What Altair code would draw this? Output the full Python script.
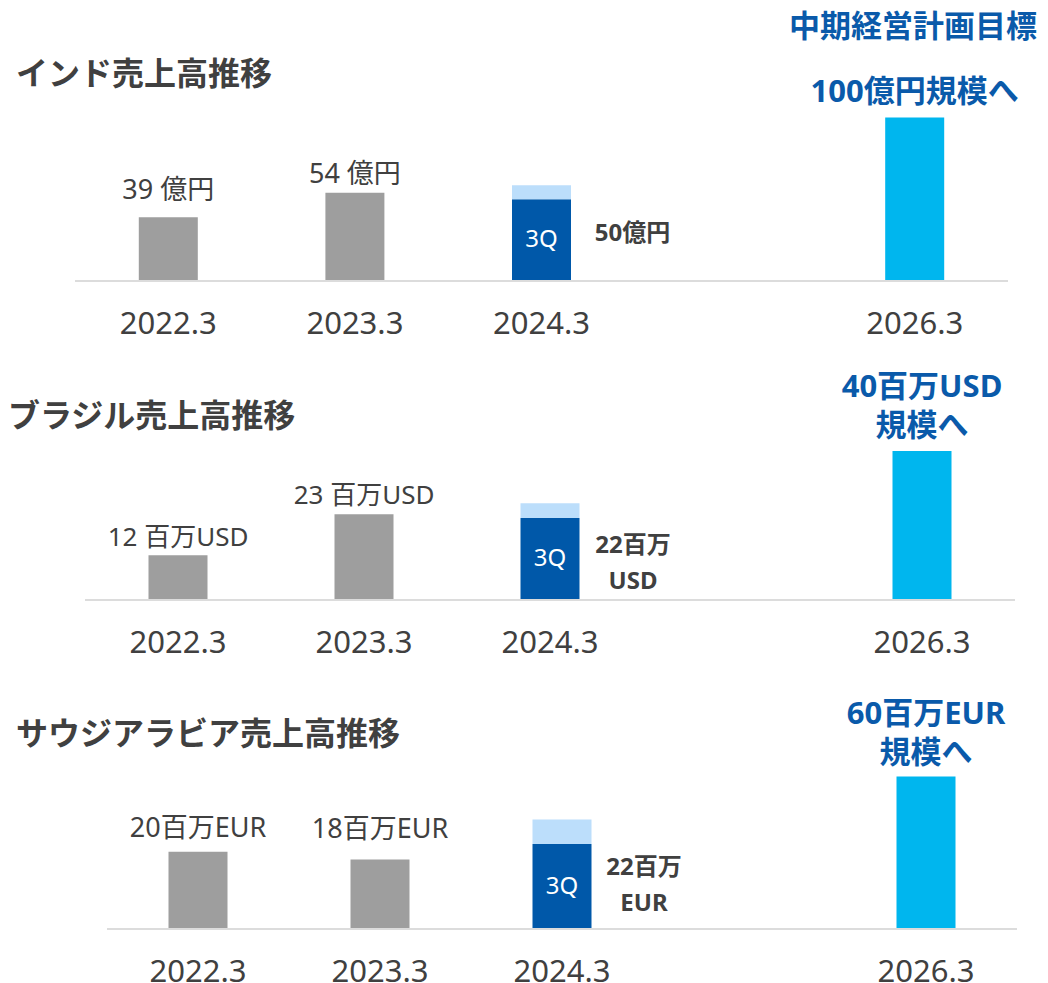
import altair as alt
import pandas as pd

FONT = "Noto Sans, Noto Sans CJK JP"
GRAY = "#9e9e9e"
DARK = "#0058a9"
LIGHT = "#bcdefb"
CYAN = "#00b6ee"
BLUE_TXT = "#0a5aaa"
TXT = "#404040"

# x categories ("" is an empty spacer column for 2025.3)
categories = ["2022.3", "2023.3", "2024.3", "", "2026.3"]
tick_labels = ["2022.3", "2023.3", "2024.3", "2026.3"]
actual_cats = ["2022.3", "2023.3"]

# ---- India (億円)
india_title = "インド売上高推移"
india_actual = [39, 54]
india_actual_labels = ["39 億円", "54 億円"]
india_q3 = 50
india_forecast_total = 58.5
india_q3_label = "50億円"
india_target_bar = 100
india_target_label = "100億円規模へ"

# ---- Brazil (百万USD)
brazil_title = "ブラジル売上高推移"
brazil_actual = [12, 23]
brazil_actual_labels = ["12 百万USD", "23 百万USD"]
brazil_q3 = 22
brazil_forecast_total = 26
brazil_q3_label = "22百万\nUSD"
brazil_target_bar = 40
brazil_target_label = "40百万USD\n規模へ"

# ---- Saudi Arabia (百万EUR)
saudi_title = "サウジアラビア売上高推移"
saudi_actual = [20, 18]
saudi_actual_labels = ["20百万EUR", "18百万EUR"]
saudi_q3 = 22
saudi_forecast_total = 28.4
saudi_q3_label = "22百万\nEUR"
saudi_target_bar = 39.5
saudi_target_label = "60百万EUR\n規模へ"

plan_header = "中期経営計画目標"

W = 1032


def panel(title, actual, actual_labels, q3, fc_total, q3_label, target_bar,
          target_label, height, base, ymax, xr, title_x, title_y,
          label_size, label_dys, target_dy, side_dx, side_dy):
    bars = pd.DataFrame({
        "cat": actual_cats + ["2024.3", "2024.3", "2026.3"],
        "y0": [0, 0, 0, q3, 0],
        "y1": actual + [q3, fc_total, target_bar],
        "kind": ["actual", "actual", "3Q", "forecast", "target"],
    })
    xs = alt.Scale(domain=categories, range=xr, paddingInner=0, paddingOuter=0)
    ys = alt.Scale(domain=[0, ymax], range=[base, 0])
    xe = alt.X("cat:N", scale=xs, axis=None)

    bar = alt.Chart(bars).mark_bar(width=59).encode(
        x=xe,
        y=alt.Y("y1:Q", scale=ys, axis=None),
        y2="y0",
        color=alt.Color("kind:N", scale=alt.Scale(
            domain=["actual", "3Q", "forecast", "target"],
            range=[GRAY, DARK, LIGHT, CYAN]), legend=None),
    )

    base_line = alt.Chart(pd.DataFrame({"v": [0]})).mark_rule(
        color="#dcdcdc", strokeWidth=2
    ).encode(x=alt.value(xr[0]), x2=alt.value(xr[1]),
             y=alt.Y("v:Q", scale=ys, axis=None))

    tick_df = pd.DataFrame({"cat": tick_labels, "v": [0] * len(tick_labels)})
    ticks = alt.Chart(tick_df).mark_text(
        font=FONT, fontSize=31, color=TXT, baseline="middle", dy=44
    ).encode(x=xe, y=alt.Y("v:Q", scale=ys, axis=None), text="cat:N")

    layers = [bar, base_line, ticks]
    for c, v, t, d in zip(actual_cats, actual, actual_labels, label_dys):
        layers.append(alt.Chart(pd.DataFrame({"cat": [c], "v": [v], "t": [t]})).mark_text(
            font=FONT, fontSize=label_size, color=TXT, baseline="bottom", dy=d
        ).encode(x=xe, y=alt.Y("v:Q", scale=ys, axis=None), text="t:N"))

    q_df = pd.DataFrame({"cat": ["2024.3"], "v": [q3 / 2], "t": ["3Q"], "s": [q3_label]})
    q3txt = alt.Chart(q_df).mark_text(
        font=FONT, fontSize=24, color="white", baseline="middle"
    ).encode(x=xe, y=alt.Y("v:Q", scale=ys, axis=None), text="t:N")
    q3side = alt.Chart(q_df).mark_text(
        font=FONT, fontSize=24, fontWeight="bold", color=TXT, baseline="middle",
        dx=side_dx, dy=side_dy, lineBreak="\n", lineHeight=36
    ).encode(x=xe, y=alt.Y("v:Q", scale=ys, axis=None), text="s:N")

    t_df = pd.DataFrame({"cat": ["2026.3"], "v": [target_bar], "t": [target_label]})
    ttxt = alt.Chart(t_df).mark_text(
        font=FONT, fontSize=31, fontWeight="bold", color=BLUE_TXT,
        baseline="bottom", dy=target_dy, lineBreak="\n", lineHeight=39
    ).encode(x=xe, y=alt.Y("v:Q", scale=ys, axis=None), text="t:N")

    ttl = alt.Chart(pd.DataFrame({"t": [title]})).mark_text(
        font=FONT, fontSize=32, fontWeight="bold", color=TXT, align="left",
        baseline="middle"
    ).encode(x=alt.value(title_x), y=alt.value(title_y), text="t:N")

    layers += [q3txt, q3side, ttxt, ttl]
    return layers, height


l1, h1 = panel(india_title, india_actual, india_actual_labels, india_q3,
               india_forecast_total, india_q3_label, india_target_bar,
               india_target_label, 350, 273, 273 / 1.635, [67, 1000], 8, 67,
               27, [-12, -4], -9, 91, -6)
hdr = alt.Chart(pd.DataFrame({"t": [plan_header]})).mark_text(
    font=FONT, fontSize=31, fontWeight="bold", color=BLUE_TXT, align="center",
    baseline="middle").encode(x=alt.value(905), y=alt.value(20), text="t:N")
p1 = alt.layer(*l1, hdr).properties(width=W, height=h1)

l2, h2 = panel(brazil_title, brazil_actual, brazil_actual_labels, brazil_q3,
               brazil_forecast_total, brazil_q3_label, brazil_target_bar,
               brazil_target_label, 322, 242, 242 / 3.725, [77, 1007], 0, 59,
               26, [-4, -5], -47, 83, -13)
p2 = alt.layer(*l2).properties(width=W, height=h2)

l3, h3 = panel(saudi_title, saudi_actual, saudi_actual_labels, saudi_q3,
               saudi_forecast_total, saudi_q3_label, saudi_target_bar,
               saudi_target_label, 303, 249, 249 / 3.86, [99, 1009], 8, 55,
               27, [-9, -16], -46, 82, -19)
p3 = alt.layer(*l3).properties(width=W, height=h3)

chart = alt.vconcat(p1, p2, p3, spacing=0).properties(
    padding=0, background="white"
).configure_view(stroke=None, strokeWidth=0)

chart.save("out.html", embed_options={"renderer": "svg", "actions": False})
